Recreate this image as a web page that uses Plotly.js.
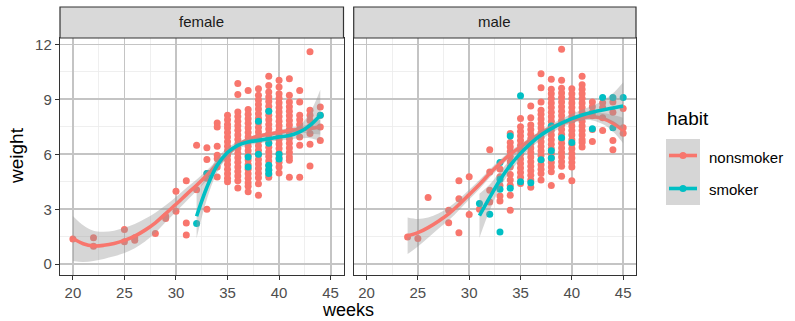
<!DOCTYPE html>
<html><head><meta charset="utf-8">
<script src="https://cdn.plot.ly/plotly-3.0.1.min.js"></script>
<style>html,body{margin:0;padding:0;background:#fff}#chart{width:795px;height:321px}</style>
</head><body><div id="chart"></div>
<script>
// ---- labels / ticks ----
const panelNames = ['female', 'male'];
const habitNames = ['nonsmoker', 'smoker'];
const xTicks = [20, 25, 30, 35, 40, 45];
const yTicks = [0, 3, 6, 9, 12];
const habitColors = ['#F8766D', '#00BFC4'];

// ---- observed points: week columns and weights in each column ----
const femaleNonsmokerWeeks = [20, 22, 25, 26, 28, 29, 30, 31, 32, 33, 34, 35, 36, 37, 38, 39, 40, 41, 42, 43, 44];
const femaleNonsmokerWeights = [
  [1.38], [1.44, 0.98], [1.9, 1.23], [1.45, 1.31], [1.67], [2.62, 2.5], [3.98, 2.89],
  [4.56, 2.25, 1.59], [6.49, 4.07], [6.36, 5.71, 4.95, 4.69, 3.0],
  [7.71, 7.49, 6.44, 5.95, 5.76, 5.31, 4.76],
  [8.13, 7.88, 7.63, 7.44, 7.19, 6.94, 6.69, 6.44, 6.19, 5.94, 5.69, 5.44, 5.19, 4.94, 4.69, 4.5],
  [9.86, 9.27, 8.31, 8.06, 7.81, 7.56, 7.31, 7.06, 6.81, 6.56, 6.31, 6.06, 5.81, 5.56, 5.31, 5.06, 4.81, 4.56, 4.16],
  [9.49, 8.44, 8.19, 7.94, 7.69, 7.44, 7.19, 6.94, 6.69, 6.44, 6.19, 5.94, 5.69, 5.44, 5.19, 4.94, 4.69, 4.44, 4.25, 3.95],
  [9.58, 9.22, 8.97, 8.72, 8.47, 8.22, 7.97, 7.72, 7.47, 7.22, 6.97, 6.72, 6.47, 6.22, 5.97, 5.72, 5.47, 5.22, 4.97, 4.72, 4.39, 3.76],
  [10.26, 9.76, 9.4, 9.13, 8.88, 8.63, 8.38, 8.13, 7.88, 7.63, 7.38, 7.13, 6.88, 6.63, 6.38, 6.13, 5.88, 5.63, 5.38, 5.13, 4.88, 4.75],
  [10.04, 9.67, 9.31, 9.06, 8.81, 8.56, 8.31, 8.06, 7.81, 7.56, 7.31, 7.06, 6.81, 6.56, 6.31, 6.06, 5.81, 5.56, 5.31, 4.98],
  [10.13, 9.22, 8.85, 8.6, 8.35, 8.1, 7.85, 7.6, 7.35, 7.1, 6.85, 6.6, 6.35, 6.1, 5.85, 5.67, 4.75],
  [9.49, 8.85, 8.13, 7.88, 7.63, 7.38, 6.95, 6.49, 4.75],
  [11.6, 8.4, 8.13, 7.85, 7.49, 7.13, 6.55, 5.36],
  [8.58, 8.13, 7.49, 6.76]
];
const femaleSmokerWeeks = [32, 33, 37, 38, 39, 40, 44];
const femaleSmokerWeights = [
  [2.22], [4.95], [5.3, 5.85], [7.8, 6.0], [8.35, 6.6, 5.4, 5.15, 4.95], [6.0, 5.75], [8.13]
];
const maleNonsmokerWeeks = [24, 25, 26, 28, 29, 30, 31, 32, 33, 34, 35, 36, 37, 38, 39, 40, 41, 42, 43, 44, 45];
const maleNonsmokerWeights = [
  [1.49], [1.4], [3.64], [2.95, 2.26], [4.55, 3.58, 1.71], [4.77, 2.71], [3.0],
  [6.25, 5.04, 4.04, 3.4], [5.2, 4.77, 4.3, 3.73, 3.45],
  [7.13, 6.64, 6.4, 6.15, 5.9, 5.6, 5.3, 4.9, 4.6, 4.3, 3.77, 2.95],
  [7.95, 7.5, 7.25, 7.0, 6.75, 6.5, 6.25, 6.0, 5.75, 5.5, 5.25, 5.0, 4.75, 4.4],
  [8.64, 8.0, 7.6, 7.35, 7.1, 6.85, 6.6, 6.35, 6.1, 5.85, 5.6, 5.35, 5.1, 4.85, 4.6, 4.2],
  [10.4, 9.64, 8.86, 8.4, 8.18, 7.93, 7.68, 7.43, 7.18, 6.93, 6.68, 6.43, 6.18, 5.93, 5.68, 5.43, 5.18, 4.95, 4.6],
  [10.1, 9.55, 9.3, 9.05, 8.8, 8.55, 8.3, 8.05, 7.8, 7.55, 7.3, 7.05, 6.8, 6.55, 6.3, 6.05, 5.8, 5.55, 5.3, 5.05, 4.3],
  [11.73, 10.04, 9.6, 9.35, 9.1, 8.85, 8.6, 8.35, 8.1, 7.85, 7.6, 7.35, 7.1, 6.85, 6.6, 6.35, 6.1, 5.85, 5.6, 5.35, 4.8],
  [9.58, 9.3, 9.05, 8.8, 8.55, 8.3, 8.05, 7.8, 7.55, 7.3, 7.05, 6.8, 6.55, 6.3, 6.05, 5.8, 5.55, 5.3, 4.55],
  [10.26, 9.8, 9.55, 9.3, 9.05, 8.8, 8.55, 8.3, 8.05, 7.8, 7.55, 7.3, 7.05, 6.8, 6.64, 6.4],
  [8.86, 8.6, 8.3, 8.1, 7.36, 6.7],
  [8.82, 8.55, 8.0, 7.3],
  [8.85, 8.3, 6.76, 6.25],
  [8.5, 7.45, 7.15]
];
const maleSmokerWeeks = [31, 32, 33, 34, 35, 36, 37, 38, 39, 40, 42, 43, 44, 45];
const maleSmokerWeights = [
  [3.31], [2.73], [5.55, 4.64, 4.09, 1.76], [7.0, 4.15], [9.2, 4.5], [4.45], [5.7],
  [7.55, 6.2, 5.8], [6.9], [6.65], [7.4], [9.1], [9.1, 7.45], [9.1]
];

// ---- loess smooths: fitted value and half-width of the confidence band ----
const femaleNonsmokerFitWeeks = [20, 21, 22, 23, 24, 25, 26, 27, 28, 29, 30, 31, 32, 33, 34, 35, 36, 37, 38, 39, 40, 41, 42, 43, 44];
const femaleNonsmokerFit = [1.40, 1.12, 1.0, 1.03, 1.13, 1.30, 1.53, 1.86, 2.26, 2.76, 3.27, 3.80, 4.31, 4.86, 5.45, 6.0, 6.5, 6.8, 7.0, 7.1, 7.2, 7.3, 7.35, 7.4, 7.5];
const femaleNonsmokerBand = [1.23, 1.0, 0.82, 0.74, 0.7, 0.69, 0.66, 0.62, 0.55, 0.46, 0.4, 0.36, 0.32, 0.27, 0.22, 0.17, 0.14, 0.12, 0.11, 0.11, 0.12, 0.14, 0.18, 0.26, 0.42];
const femaleSmokerFitWeeks = [32, 33, 34, 35, 36, 37, 38, 39, 40, 41, 42, 43, 44];
const femaleSmokerFit = [2.62, 4.2, 5.4, 6.1, 6.49, 6.67, 6.76, 6.85, 6.95, 7.02, 7.22, 7.58, 8.13];
const femaleSmokerBand = [1.2, 0.65, 0.38, 0.26, 0.2, 0.18, 0.17, 0.17, 0.18, 0.22, 0.35, 0.7, 1.4];
const maleNonsmokerFitWeeks = [24, 25, 26, 27, 28, 29, 30, 31, 32, 33, 34, 35, 36, 37, 38, 39, 40, 41, 42, 43, 44, 45];
const maleNonsmokerFit = [1.55, 1.72, 2.0, 2.35, 2.75, 3.25, 3.8, 4.35, 4.95, 5.5, 6.0, 6.4, 6.8, 7.15, 7.45, 7.7, 7.85, 8.0, 8.05, 7.95, 7.7, 7.3];
const maleNonsmokerBand = [1.0, 0.75, 0.55, 0.42, 0.35, 0.3, 0.27, 0.25, 0.22, 0.2, 0.18, 0.16, 0.14, 0.13, 0.12, 0.12, 0.13, 0.15, 0.2, 0.3, 0.45, 0.7];
const maleSmokerFitWeeks = [31, 32, 33, 34, 35, 36, 37, 38, 39, 40, 41, 42, 43, 44, 45];
const maleSmokerFit = [2.65, 3.65, 4.6, 5.4, 6.05, 6.6, 7.05, 7.4, 7.7, 7.95, 8.15, 8.3, 8.42, 8.53, 8.64];
const maleSmokerBand = [1.2, 0.7, 0.45, 0.35, 0.3, 0.27, 0.25, 0.24, 0.24, 0.25, 0.28, 0.35, 0.5, 0.8, 1.3];

// ---- build traces ----
function pointTrace(weeks, weights, color, xa, ya, name) {
  const x = [], y = [];
  weeks.forEach((w, i) => weights[i].forEach(v => { x.push(w); y.push(v); }));
  return {type: 'scatter', mode: 'markers', x, y, xaxis: xa, yaxis: ya, name,
    marker: {color, size: 7, line: {width: 0}}, hoverinfo: 'skip', showlegend: false};
}
function smoothTraces(weeks, fit, band, color, xa, ya, name) {
  const lo = fit.map((f, i) => f - band[i]);
  const hi = fit.map((f, i) => f + band[i]);
  return [
    {type: 'scatter', mode: 'lines', x: weeks, y: lo, xaxis: xa, yaxis: ya,
      line: {width: 0, shape: 'spline', color: 'rgba(0,0,0,0)'}, hoverinfo: 'skip', showlegend: false},
    {type: 'scatter', mode: 'lines', x: weeks, y: hi, xaxis: xa, yaxis: ya, fill: 'tonexty',
      fillcolor: 'rgba(153,153,153,0.4)', line: {width: 0, shape: 'spline', color: 'rgba(0,0,0,0)'},
      hoverinfo: 'skip', showlegend: false},
    {type: 'scatter', mode: 'lines', x: weeks, y: fit, xaxis: xa, yaxis: ya, name,
      line: {width: 3.6, shape: 'spline', color}, hoverinfo: 'skip', showlegend: false}
  ];
}

const data = [
  pointTrace(femaleNonsmokerWeeks, femaleNonsmokerWeights, habitColors[0], 'x', 'y', habitNames[0]),
  pointTrace(femaleSmokerWeeks, femaleSmokerWeights, habitColors[1], 'x', 'y', habitNames[1]),
  ...smoothTraces(femaleNonsmokerFitWeeks, femaleNonsmokerFit, femaleNonsmokerBand, habitColors[0], 'x', 'y', habitNames[0]),
  ...smoothTraces(femaleSmokerFitWeeks, femaleSmokerFit, femaleSmokerBand, habitColors[1], 'x', 'y', habitNames[1]),
  pointTrace(maleNonsmokerWeeks, maleNonsmokerWeights, habitColors[0], 'x2', 'y2', habitNames[0]),
  pointTrace(maleSmokerWeeks, maleSmokerWeights, habitColors[1], 'x2', 'y2', habitNames[1]),
  ...smoothTraces(maleNonsmokerFitWeeks, maleNonsmokerFit, maleNonsmokerBand, habitColors[0], 'x2', 'y2', habitNames[0]),
  ...smoothTraces(maleSmokerFitWeeks, maleSmokerFit, maleSmokerBand, habitColors[1], 'x2', 'y2', habitNames[1])
];

// ---- layout ----
const W = 795, H = 321, ML = 60, MR = 159, MT = 38, MB = 46;
const PW = W - ML - MR, PH = H - MT - MB;
const px = v => (v - ML) / PW;          // page x -> paper x
const py = v => (H - MB - v) / PH;      // page y -> paper y
const font = 'Liberation Sans, Arial, sans-serif';

const xCommon = {
  range: [18.75, 46.25], tickvals: xTicks, ticktext: xTicks.map(String),
  ticks: 'outside', ticklen: 4, tickcolor: '#333333', tickwidth: 1,
  tickfont: {family: font, size: 15, color: '#4D4D4D'},
  showgrid: true, gridcolor: '#C4C4C4', gridwidth: 1.8,
  minor: {dtick: 2.5, tick0: 0, showgrid: true, gridcolor: '#EBEBEB', gridwidth: 0.8},
  showline: true, mirror: true, linecolor: '#333333', linewidth: 1.2,
  zeroline: false, fixedrange: true
};
const yCommon = {
  range: [-0.59, 12.35], tickvals: yTicks, ticktext: yTicks.map(String),
  ticks: 'outside', ticklen: 4, tickcolor: '#333333', tickwidth: 1,
  tickfont: {family: font, size: 15, color: '#4D4D4D'},
  showgrid: true, gridcolor: '#C4C4C4', gridwidth: 1.8,
  minor: {dtick: 1.5, tick0: 0, showgrid: true, gridcolor: '#EBEBEB', gridwidth: 0.8},
  showline: true, mirror: true, linecolor: '#333333', linewidth: 1.2,
  zeroline: false, fixedrange: true
};
const d1 = [0, (343.5 - ML) / PW], d2 = [(353.7 - ML) / PW, 1];

const stripTop = 1 + (MT - 7) / PH;
const shapes = [
  {type: 'rect', xref: 'paper', yref: 'paper', x0: d1[0], x1: d1[1], y0: 1, y1: stripTop,
    fillcolor: '#D9D9D9', line: {color: '#333333', width: 1.2}},
  {type: 'rect', xref: 'paper', yref: 'paper', x0: d2[0], x1: d2[1], y0: 1, y1: stripTop,
    fillcolor: '#D9D9D9', line: {color: '#333333', width: 1.2}},
  // legend keys
  {type: 'rect', xref: 'paper', yref: 'paper', x0: px(666), x1: px(700), y0: py(205), y1: py(139),
    fillcolor: '#D6D6D6', line: {width: 0}},
  {type: 'line', xref: 'paper', yref: 'paper', x0: px(669), x1: px(697), y0: py(155.5), y1: py(155.5),
    line: {color: habitColors[0], width: 3.6}},
  {type: 'circle', xref: 'paper', yref: 'paper', x0: px(679.5), x1: px(686.5), y0: py(159), y1: py(152),
    fillcolor: habitColors[0], line: {width: 0}},
  {type: 'line', xref: 'paper', yref: 'paper', x0: px(669), x1: px(697), y0: py(188.5), y1: py(188.5),
    line: {color: habitColors[1], width: 3.6}},
  {type: 'circle', xref: 'paper', yref: 'paper', x0: px(679.5), x1: px(686.5), y0: py(192), y1: py(185),
    fillcolor: habitColors[1], line: {width: 0}}
];

const annotations = [
  {text: panelNames[0], xref: 'paper', yref: 'paper', x: (d1[0] + d1[1]) / 2, y: py(22),
    showarrow: false, xanchor: 'center', yanchor: 'middle', font: {family: font, size: 15, color: '#1A1A1A'}},
  {text: panelNames[1], xref: 'paper', yref: 'paper', x: (d2[0] + d2[1]) / 2, y: py(22),
    showarrow: false, xanchor: 'center', yanchor: 'middle', font: {family: font, size: 15, color: '#1A1A1A'}},
  {text: 'weeks', xref: 'paper', yref: 'paper', x: px(348), y: py(310),
    showarrow: false, xanchor: 'center', yanchor: 'middle', font: {family: font, size: 18, color: '#000000'}},
  {text: 'weight', xref: 'paper', yref: 'paper', x: px(16), y: py(156), textangle: -90,
    showarrow: false, xanchor: 'center', yanchor: 'middle', font: {family: font, size: 19, color: '#000000'}},
  {text: 'habit', xref: 'paper', yref: 'paper', x: px(665), y: py(118),
    showarrow: false, xanchor: 'left', yanchor: 'middle', font: {family: font, size: 19, color: '#000000'}},
  {text: habitNames[0], xref: 'paper', yref: 'paper', x: px(707), y: py(157),
    showarrow: false, xanchor: 'left', yanchor: 'middle', font: {family: font, size: 15, color: '#000000'}},
  {text: habitNames[1], xref: 'paper', yref: 'paper', x: px(707), y: py(189),
    showarrow: false, xanchor: 'left', yanchor: 'middle', font: {family: font, size: 15, color: '#000000'}}
];

const layout = {
  width: W, height: H,
  margin: {l: ML, r: MR, t: MT, b: MB, pad: 0},
  paper_bgcolor: '#FFFFFF', plot_bgcolor: '#FFFFFF',
  showlegend: false, hovermode: false,
  font: {family: font},
  xaxis: Object.assign({}, xCommon, {domain: d1, anchor: 'y'}),
  xaxis2: Object.assign({}, xCommon, {domain: d2, anchor: 'y2'}),
  yaxis: Object.assign({}, yCommon, {anchor: 'x'}),
  yaxis2: Object.assign({}, yCommon, {anchor: 'x2', showticklabels: false, ticks: ''}),
  shapes, annotations
};

Plotly.newPlot('chart', data, layout, {staticPlot: true, displayModeBar: false});
</script>
</body></html>
